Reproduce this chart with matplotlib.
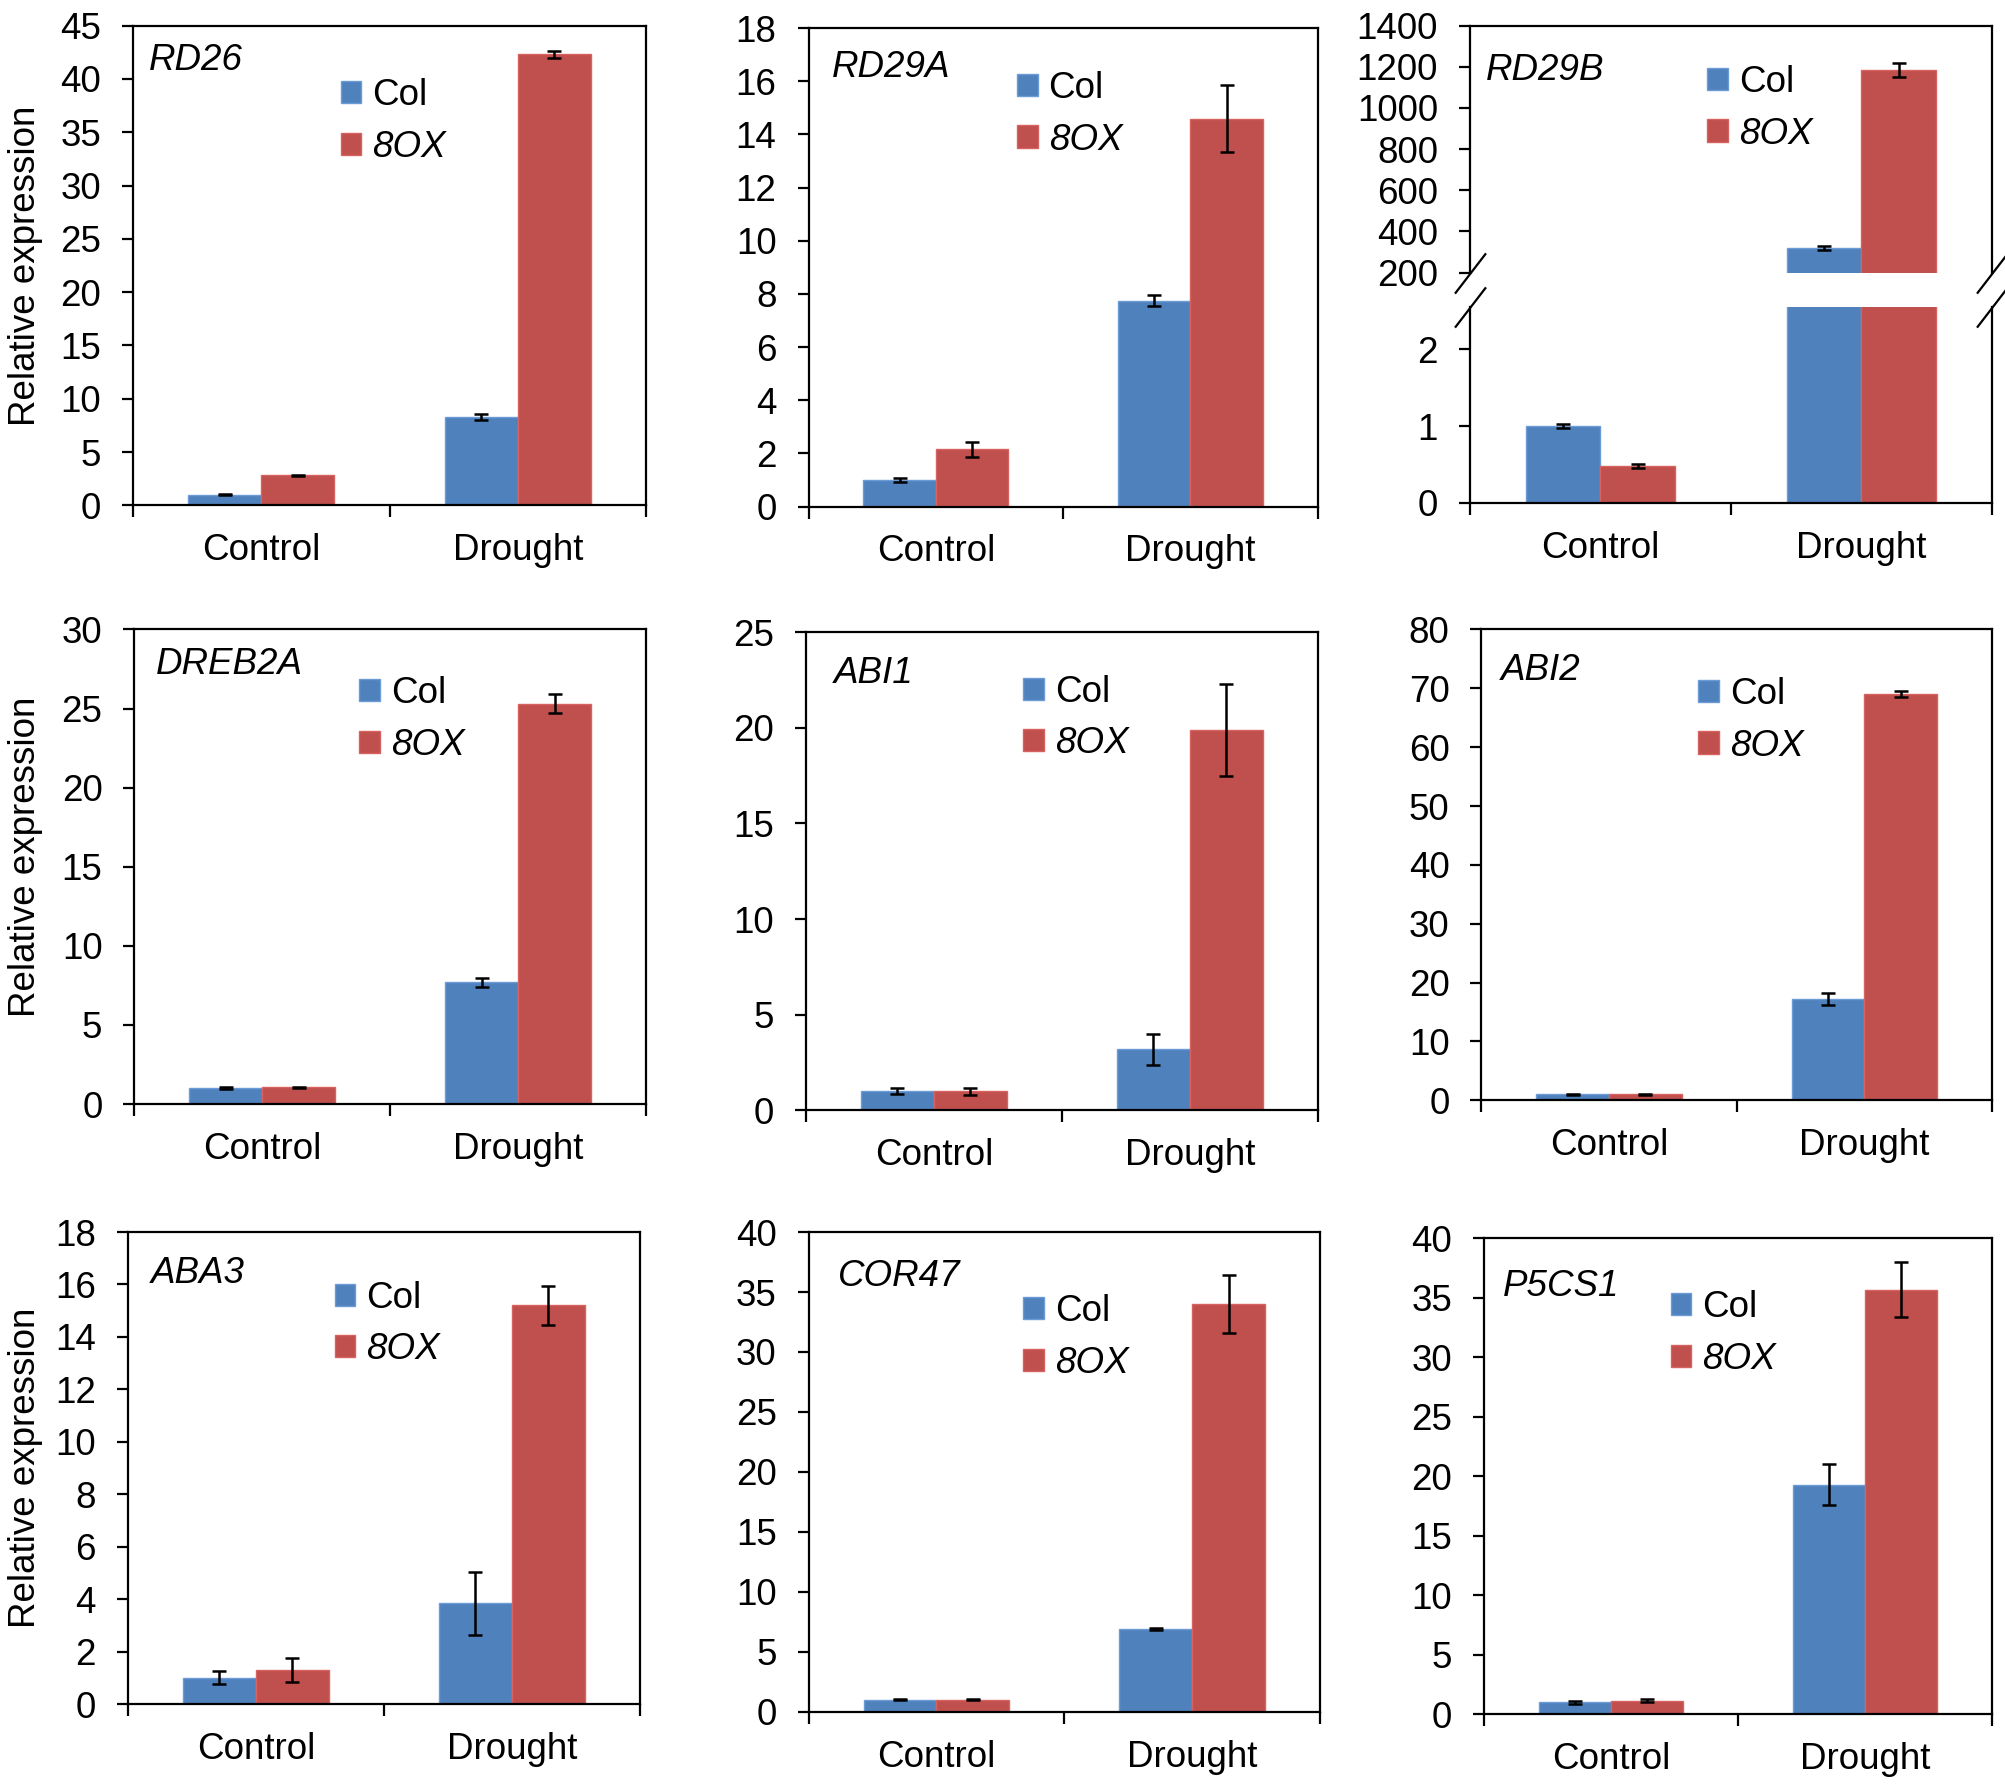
import matplotlib
matplotlib.use("Agg")
import matplotlib.pyplot as plt
from matplotlib.patches import Patch
import numpy as np

plt.rcParams['font.family'] = ['Liberation Sans', 'DejaVu Sans']

# ---------------- data ----------------
categories = ["Control", "Drought"]
series_names = ["Col", "8OX"]

genes = ["RD26", "RD29A", "RD29B", "DREB2A", "ABI1", "ABI2", "ABA3", "COR47", "P5CS1"]

col_vals = {
    "RD26": [1.0, 8.3], "RD29A": [1.0, 7.75], "RD29B": [1.0, 320],
    "DREB2A": [1.0, 7.7], "ABI1": [1.0, 3.2], "ABI2": [1.0, 17.2],
    "ABA3": [1.0, 3.85], "COR47": [1.0, 6.9], "P5CS1": [1.0, 19.3],
}
col_err = {
    "RD26": [0.06, 0.3], "RD29A": [0.08, 0.2], "RD29B": [0.03, 10],
    "DREB2A": [0.06, 0.3], "ABI1": [0.15, 0.8], "ABI2": [0.1, 1.0],
    "ABA3": [0.25, 1.2], "COR47": [0.05, 0.12], "P5CS1": [0.1, 1.7],
}
ox_vals = {
    "RD26": [2.8, 42.3], "RD29A": [2.15, 14.6], "RD29B": [0.48, 1185],
    "DREB2A": [1.05, 25.3], "ABI1": [1.0, 19.9], "ABI2": [1.0, 69.0],
    "ABA3": [1.3, 15.2], "COR47": [1.0, 34.0], "P5CS1": [1.15, 35.7],
}
ox_err = {
    "RD26": [0.08, 0.3], "RD29A": [0.3, 1.25], "RD29B": [0.03, 35],
    "DREB2A": [0.05, 0.6], "ABI1": [0.2, 2.4], "ABI2": [0.1, 0.5],
    "ABA3": [0.45, 0.75], "COR47": [0.05, 2.4], "P5CS1": [0.15, 2.3],
}
y_max = {"RD26": 45, "RD29A": 18, "DREB2A": 30, "ABI1": 25, "ABI2": 80,
         "ABA3": 18, "COR47": 40, "P5CS1": 40}
y_step = {"RD26": 5, "RD29A": 2, "DREB2A": 5, "ABI1": 5, "ABI2": 10,
          "ABA3": 2, "COR47": 5, "P5CS1": 5}
# broken axis for RD29B
rd29b_upper = (200, 1400, 200)
rd29b_lower = (0, 2.55, 1)

# ---------------- style ----------------
BLUE = "#4F81BD"
RED = "#C0504D"
BLUE_E = "#6C9BD6"
RED_E = "#D8625F"
FS = 26.5
LW = 1.6
W = 0.285

W_DISP, H_DISP = 1568.0, 1396.0

def rect(xl, xr, yt, yb):
    return [xl / W_DISP, 1 - yb / H_DISP, (xr - xl) / W_DISP, (yb - yt) / H_DISP]

positions = {
    "RD26": rect(104, 505, 20, 395),
    "RD29A": rect(632, 1030, 22, 396),
    "DREB2A": rect(105, 505, 492, 863),
    "ABI1": rect(630, 1030, 494, 868),
    "ABI2": rect(1158, 1557, 492, 860),
    "ABA3": rect(100, 500, 963, 1332),
    "COR47": rect(632, 1032, 963, 1338),
    "P5CS1": rect(1160, 1557, 968, 1340),
}
legend_pos = {
    "RD26": (0.405, 0.80), "RD29A": (0.41, 0.82), "RD29B": (0.455, 0.665),
    "DREB2A": (0.44, 0.81), "ABI1": (0.425, 0.82), "ABI2": (0.425, 0.807),
    "ABA3": (0.405, 0.805), "COR47": (0.42, 0.78), "P5CS1": (0.368, 0.80),
}
gene_pos = {
    "RD26": (0.03, 0.928), "RD29A": (0.045, 0.917), "RD29B": (0.03, 0.82),
    "DREB2A": (0.043, 0.927), "ABI1": (0.055, 0.914), "ABI2": (0.038, 0.913),
    "ABA3": (0.045, 0.913), "COR47": (0.058, 0.907), "P5CS1": (0.038, 0.90),
}

fig = plt.figure(figsize=(20.06, 17.86), dpi=100)

x = np.arange(len(categories))


def draw_bars(ax, g):
    ax.bar(x - W / 2, col_vals[g], W, color=BLUE, edgecolor=BLUE_E, linewidth=1.0, zorder=2)
    ax.bar(x + W / 2, ox_vals[g], W, color=RED, edgecolor=RED_E, linewidth=1.0, zorder=2)
    ax.errorbar(x - W / 2, col_vals[g], yerr=col_err[g], fmt='none', ecolor='black',
                elinewidth=1.8, capsize=5, capthick=1.8, zorder=3)
    ax.errorbar(x + W / 2, ox_vals[g], yerr=ox_err[g], fmt='none', ecolor='black',
                elinewidth=1.8, capsize=5, capthick=1.8, zorder=3)
    ax.set_xlim(-0.5, 1.5)


def style_axes(ax, xaxis=True):
    for s in ax.spines.values():
        s.set_linewidth(LW)
        s.set_color('black')
    ax.tick_params(axis='y', direction='out', length=8, width=LW, pad=15,
                   labelsize=FS, right=False)
    if xaxis:
        ax.set_xticks([-0.5, 0.5, 1.5])
        ax.set_xticklabels([])
        ax.set_xticks(x, minor=True)
        ax.set_xticklabels(categories, minor=True)
        ax.tick_params(axis='x', which='major', direction='out', length=8.5, width=LW, top=False)
        ax.tick_params(axis='x', which='minor', length=0, pad=20, labelsize=FS, top=False)
    else:
        ax.tick_params(axis='x', which='both', bottom=False, top=False, labelbottom=False)


def add_legend(ax, g):
    handles = [Patch(facecolor=BLUE, edgecolor=BLUE_E), Patch(facecolor=RED, edgecolor=RED_E)]
    leg = ax.legend(handles, series_names, loc='center left', bbox_to_anchor=legend_pos[g],
                    frameon=False, fontsize=FS, handlelength=0.55, handleheight=0.55,
                    handletextpad=0.3, labelspacing=0.45, borderpad=0, borderaxespad=0)
    leg.get_texts()[1].set_style('italic')


def add_gene(ax, g):
    gx, gy = gene_pos[g]
    ax.text(gx, gy, g, transform=ax.transAxes, fontsize=FS, style='italic',
            ha='left', va='center')


for g in genes:
    if g == "RD29B":
        continue
    ax = fig.add_axes(positions[g])
    draw_bars(ax, g)
    ax.set_ylim(0, y_max[g])
    ax.set_yticks(np.arange(0, y_max[g] + 0.001, y_step[g]))
    style_axes(ax)
    add_legend(ax, g)
    add_gene(ax, g)

# RD29B broken axis
ax_up = fig.add_axes(rect(1149, 1557, 20, 213))
ax_lo = fig.add_axes(rect(1149, 1557, 240, 393))
for ax in (ax_up, ax_lo):
    draw_bars(ax, "RD29B")
ax_up.set_ylim(rd29b_upper[0], rd29b_upper[1])
ax_up.set_yticks(np.arange(rd29b_upper[0], rd29b_upper[1] + 1, rd29b_upper[2]))
ax_lo.set_ylim(rd29b_lower[0], rd29b_lower[1])
ax_lo.set_yticks(np.arange(0, 2.01, rd29b_lower[2]))
style_axes(ax_up, xaxis=False)
style_axes(ax_lo)
ax_up.spines['bottom'].set_visible(False)
ax_lo.spines['top'].set_visible(False)
add_legend(ax_up, "RD29B")
add_gene(ax_up, "RD29B")

slash = dict(marker=[(-1, -1.3), (1, 1.3)], markersize=29, linestyle='none',
             color='k', mec='k', mew=LW, clip_on=False)
ax_up.plot([0, 1], [0, 0], transform=ax_up.transAxes, **slash)
ax_lo.plot([0, 1], [1, 1], transform=ax_lo.transAxes, **slash)

# y-axis labels (left column)
for yc in [(20 + 395) / 2, (492 + 863) / 2 - 8, (963 + 1332) / 2]:
    fig.text(20 / W_DISP, 1 - yc / H_DISP, "Relative expression", rotation=90,
             ha='center', va='center', fontsize=FS)

fig.savefig("out.png", dpi=100, facecolor='white')
